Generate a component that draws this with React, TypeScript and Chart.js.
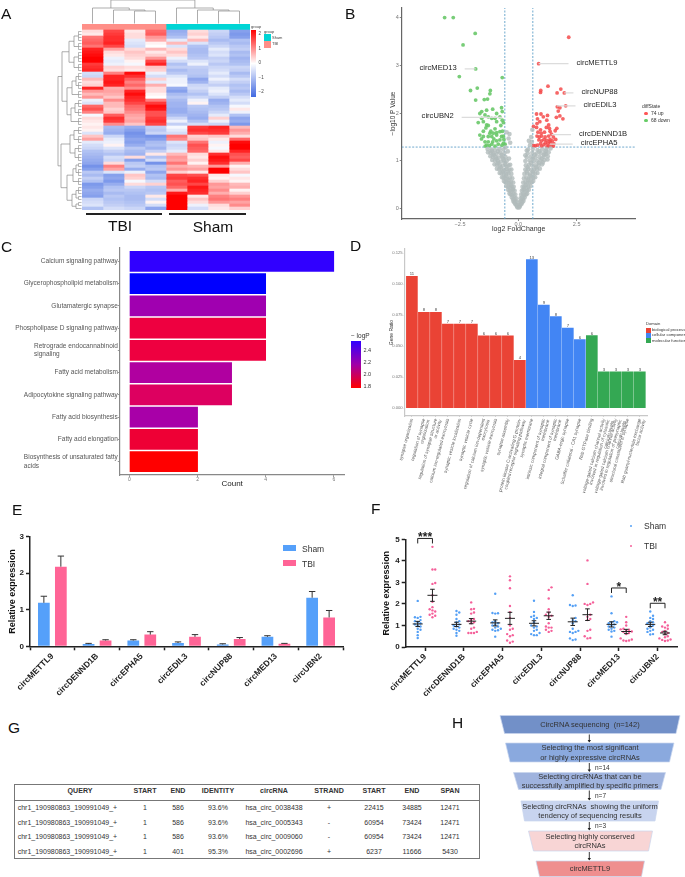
import React, { useEffect, useRef } from "react";
import { Chart, registerables } from "chart.js";
Chart.register(...registerables);
const FONT = "'Liberation Sans', Arial, sans-serif";
Chart.defaults.font.family = FONT;

// ---------- A: heatmap ----------
const sampleGroups = ["TBI", "TBI", "TBI", "TBI", "Sham", "Sham", "Sham", "Sham"];
const heatRows = [
  [.3,1.6,.2,1.3,-1.2,.3,-.6,-1.4],[.2,1.7,.3,1.4,-1.1,.4,-.7,-1.5],[1.2,1.8,.3,.9,-.9,.2,-.8,-1.4],
  [1.3,1.8,-.3,.7,-.3,.6,-1,-.9],[1.4,1.9,-.4,.1,.6,-.4,-.8,-1],[1.2,1.6,-.5,0,-.4,-.9,-.6,-.8],
  [1.9,.8,.3,.6,.3,-1,-.3,-.7],[2,.3,.5,.2,.5,-1,-.5,-1],[2.1,.2,.4,.4,.3,-.9,-.4,-.9],
  [2.2,-.2,.3,.9,-.2,-.8,-.7,-1.1],[2.2,-.3,.1,1.6,-.5,-.4,-.6,-1],[1.7,-.2,-.1,1.9,-.9,-.2,-.8,-.9],
  [1.8,.4,.3,.5,-.7,-.7,-.6,-.6],[1.9,.3,.2,.4,-1,-.8,-.5,-.7],[-.5,1.1,2.1,-.2,-.8,-.8,-.3,-1],
  [-.6,1.9,1.8,-.5,-.4,-.9,-.5,-.8],[.6,1.9,1.4,.4,-.2,-1.3,-.2,-.5],[.3,2,1.1,-.3,-.2,-1.1,-.5,-.7],
  [.4,1.9,1.3,.7,-.1,-.6,-.7,-.9],[1.9,.7,1,.3,-1.2,-.5,-.3,-.8],[.9,.8,1.9,.3,-1.4,-.7,-.2,-1],
  [.6,.7,2.1,.1,-1,-.9,-.4,-.8],[.9,.5,1.9,0,-.8,-.6,-.7,-.5],[-.2,1,1.8,1.1,-1,-.2,-1.2,-.3],
  [-.4,.6,1.6,1.7,-1.1,.1,-1.1,-.5],[1.3,.6,1.3,2.1,-1.1,-.8,-.9,-.1],[1.5,.4,1.2,2,-1.2,-.9,-.8,.2],
  [1.1,.5,1,1.5,-1.2,-1,-.6,-.2],[-.1,1.4,.8,1.5,-1,-1.1,-.3,-.9],[.3,1.8,.7,1.7,-.6,-1.2,.4,-1.3],
  [.2,1.7,.8,1.8,-.2,-.9,-.2,-1.2],[.1,1,.5,1.6,-.7,-.5,-.6,-1.5],[.2,-1,-1.2,-.7,-.1,1.7,1.9,.6],
  [.1,-1.1,-1.4,-.8,-.3,1.8,1.8,.9],[-.4,-1.2,-1.6,-.6,-.5,1.6,1.7,.7],[.5,-.6,-1.5,-1.6,1.2,.4,.5,.3],
  [.8,-.3,-1.3,-1.4,1,.5,.2,1.3],[-.3,-.2,-1.4,-1,-.4,1.2,-.2,2.1],[-.5,.1,-1.2,-.9,-.6,1.5,.1,2.2],
  [-.6,-.4,-.8,-1.1,-.5,1.4,-.1,2.2],[-.9,-.7,-1,-.7,-.3,1.3,.2,1.9],[-1,-.9,-1.1,.2,.6,.3,1.8,1.5],
  [-1.1,-.5,.3,-.9,.9,.2,2.1,1.4],[-1.2,-.6,-1.4,-.5,.8,.4,2,1.6],[-1.3,.3,-.8,-1.6,1.2,.1,1.8,.7],
  [-1.6,1.1,-.7,-.9,.7,.6,.9,.1],[-1.4,.8,-1.2,-.8,.9,.8,2.2,.3],[-.8,-.4,-.2,-1.3,.4,.2,2.3,.5],
  [-1,-1.4,.5,-.9,1.6,1.5,.2,-.1],[-.7,-1.3,.4,-1,1.7,1.8,.1,.2],[-.9,-1.5,-.1,-.5,1.4,1.9,.4,.1],
  [-1.5,-1.2,.3,.4,1.5,1.6,.9,.6],[-1.4,-.9,-.6,-.8,1.3,2,.8,.7],[-1.2,-.8,-.8,-.9,.7,1.9,1,.1],
  [-1.3,-1,-.9,-.8,2,1.8,.7,.4],[-1.4,-.8,-1,.2,2.2,.2,1.1,.9],[-.6,-.9,-1,-.5,2.2,.5,1.2,1.1],
  [-.5,-.8,-.9,.1,2.2,.3,.9,.8],[-.4,-.7,-.8,-.5,2.2,-.2,.3,1],[-.9,-.5,-.6,-1.3,2.2,-.5,.2,.4],
];
// dendrogram trees: [height, left, right]; a number is a run of leaves
const rowTree: any = [24,
  [20,
    [13,[8,4,3],[8,4,3]],
    [15,[10,[6,3,3],3],[11,[7,3,3],3]]],
  [21,
    [12,[8,3,3],[7,3,3]],
    [15,[9,[6,2,3],3],[10,[6,3,2],[6,2,1]]]],
];
const colTree: any = [24,[16,0,[14,1,[13,2,3]]],[16,4,[14,5,[13,6,7]]]];
const heatTicks = [2, 1, 0, -1, -2];

// ---------- B: volcano ----------
const upPoints = [[2.16,3.58],[.87,3.03],[1.27,2.56],[1.82,2.5],[.96,2.47],[.95,2.43],[1.66,2.42],[1.97,2.42],[2.03,2.15],[1.67,2.13],[1.78,2.11],[1.71,2.04],[1.63,1.91],[1.78,1.94],[1.91,1.88],[.78,1.98],[.97,1.98],[1.25,1.95],[1.07,1.92],[.82,1.88],[.92,1.82],[1.22,1.85],[.8,1.78],[1.3,1.75],[1.2,1.7],[.65,1.72],[.78,1.7],[1.33,1.68],[1.36,1.62],[1.65,1.68],[1.58,1.63],[.95,1.65],[.84,1.6],[.98,1.58],[1.12,1.6],[1.42,1.56],[.8,1.52],[.9,1.5],[1,1.52],[1.15,1.5],[1.3,1.52],[1.5,1.5],[.88,1.44],[1,1.42],[1.1,1.45],[1.22,1.43],[1.36,1.45],[1.46,1.42],[1.6,1.45],[.95,1.36],[1.16,1.38],[1.26,1.36],[1.38,1.38],[1.52,1.36],[.72,1.32],[.82,1.33],[.65,1.32],[1.1,1.34],[1.3,1.31],[1.42,1.32],[1.5,1.31],[1.24,1.3],[1,1.31],[1.34,1.41]];
const downPoints = [[-3.16,3.99],[-2.79,3.99],[-1.85,3.66],[-2.37,3.42],[-1.83,2.92],[-2.53,2.76],[-.69,2.74],[-1.76,2.52],[-2.05,2.47],[-1.2,2.47],[-1.22,2.4],[-1.83,2.27],[-1.46,2.28],[-1.32,2.29],[-1.57,2.03],[-1.36,2.06],[-1.1,2.08],[-.72,2.11],[-1.43,1.96],[-1.65,1.99],[-1.57,1.89],[-1.29,1.92],[-.93,1.99],[-.69,2.03],[-1.72,1.8],[-1.5,1.82],[-1.14,1.89],[-1,1.89],[-.79,1.92],[-.69,1.85],[-.64,1.8],[-.93,1.82],[-1.36,1.75],[-1.29,1.74],[-1,1.67],[-1.39,1.69],[-1.65,1.54],[-1.5,1.51],[-1.22,1.58],[-1.07,1.58],[-.93,1.59],[-.79,1.61],[-.64,1.52],[-1.29,1.51],[-1.14,1.51],[-.93,1.54],[-.72,1.51],[-1.43,1.4],[-1.29,1.4],[-1.1,1.4],[-.93,1.42],[-.79,1.44],[-.64,1.37],[-.57,1.35],[-1.36,1.33],[-1.14,1.35],[-.86,1.35],[-1.18,1.62],[-1.05,1.46],[-.75,1.74],[-.68,1.62],[-1.5,1.62],[-1.24,1.32],[-1,1.31],[-.7,1.33],[-.62,1.45],[-1.42,1.31],[-1.58,1.46]];
const nsPoints = [
  [-.03,.03],[-.06,.05],[-.05,.08],[-.1,.09],[-.14,.11],[-.08,.15],[-.13,.16],[-.18,.14],[-.22,.17],[-.1,.22],[-.16,.23],[-.22,.21],[-.28,.24],[-.13,.3],[-.2,.31],[-.27,.29],[-.33,.3],[-.38,.32],[-.16,.38],[-.24,.39],[-.31,.37],[-.38,.38],[-.44,.4],
  [-.2,.46],[-.28,.47],[-.36,.45],[-.44,.46],[-.52,.48],[-.22,.55],[-.31,.56],[-.4,.54],[-.48,.55],[-.56,.56],[-.62,.58],[-.26,.64],[-.36,.65],[-.46,.63],[-.55,.64],[-.64,.65],[-.7,.66],[-.3,.73],[-.42,.74],[-.52,.72],[-.62,.73],[-.72,.74],[-.8,.75],
  [-.38,.82],[-.5,.83],[-.6,.81],[-.72,.82],[-.82,.83],[-.92,.84],[-.42,.91],[-.55,.92],[-.68,.9],[-.8,.91],[-.92,.92],[-1.02,.93],[-.5,1],[-.62,1.01],[-.75,.99],[-.88,1],[-1,1.01],[-1.12,1.02],[-.55,1.08],[-.7,1.09],[-.85,1.07],[-.98,1.08],[-1.1,1.09],[-1.2,1.1],
  [-.6,1.16],[-.78,1.17],[-.94,1.15],[-1.08,1.16],[-1.2,1.17],[-1.3,1.18],[-.65,1.24],[-.82,1.25],[-1,1.23],[-1.15,1.24],[-1.32,1.25],[-.42,1.47],[-.38,1.56],[-.5,1.6],[-.55,1.28],[-.35,1.38],[-.45,1.2],[-.4,1.05],[-.35,.92],[-.3,.82],
  [.03,.03],[.06,.05],[.05,.08],[.1,.09],[.14,.11],[.07,.15],[.12,.16],[.17,.14],[.22,.17],[.09,.22],[.15,.23],[.21,.21],[.27,.24],[.12,.3],[.19,.31],[.26,.29],[.33,.3],[.38,.32],[.15,.38],[.22,.39],[.3,.37],[.38,.38],[.45,.4],
  [.18,.46],[.26,.47],[.34,.45],[.43,.46],[.52,.48],[.21,.55],[.3,.56],[.39,.54],[.48,.55],[.57,.56],[.64,.58],[.24,.64],[.34,.65],[.44,.63],[.54,.64],[.64,.65],[.72,.66],[.26,.73],[.38,.74],[.5,.72],[.62,.73],[.72,.74],[.82,.75],
  [.3,.82],[.42,.83],[.55,.81],[.68,.82],[.8,.83],[.92,.84],[.32,.91],[.46,.92],[.6,.9],[.74,.91],[.88,.92],[1.02,.93],[.3,1],[.48,1.01],[.64,.99],[.8,1],[.96,1.01],[1.12,1.02],[1.25,1.03],[.36,1.08],[.54,1.09],[.72,1.07],[.9,1.08],[1.08,1.09],[1.26,1.1],
  [.4,1.16],[.6,1.17],[.78,1.15],[.96,1.16],[1.14,1.17],[1.3,1.18],[.42,1.24],[.62,1.25],[.82,1.23],[1.02,1.24],[1.2,1.25],[1.38,1.26],[.55,1.5],[.6,1.65],[.58,1.4],[.5,1.33],[.45,1.42],
  [-.24,.42],[-.33,.5],[-.42,.6],[-.52,.69],[-.66,.78],[-.76,.87],[-.86,.96],[-.94,1.05],[-1.05,1.13],[-1.14,1.21],[-.45,.78],[-.5,.88],[-.58,.96],[-.66,1.05],[-.72,1.13],[-.88,1.2],[.24,.42],[.32,.5],[.42,.6],[.5,.69],[.62,.78],[.76,.87],[.88,.96],[1,1.05],[1.1,1.13],[1.18,1.21],[.36,.78],[.4,.87],[.54,.96],[.62,1.05],[.7,1.13],[.9,1.2],[1.05,.97],[1.18,1.14],[.3,1.12],[.36,1.22],
];
const xCut = [-0.58, 0.62];
const yCut = 1.29;
const geneLeaders = [
  { name: "circMETTL9", from: [.87, 3.03], to: [2.15, 3.03], side: 1 },
  { name: "circMED13", from: [-1.83, 2.92], to: [-2.3, 2.92], side: -1 },
  { name: "circNUP88", from: [1.97, 2.42], to: [2.36, 2.42], side: 1 },
  { name: "circEDIL3", from: [1.65, 2.15], to: [2.45, 2.15], side: 1 },
  { name: "circUBN2", from: [-.69, 1.91], to: [-2.43, 1.91], side: -1 },
  { name: "circDENND1B", from: [1.43, 1.55], to: [2.26, 1.55], side: 1 },
  { name: "circEPHA5", from: [1.36, 1.35], to: [2.33, 1.35], side: 1 },
];

// ---------- C: KEGG bars ----------
const pathways = [
  ["Calcium signaling pathway"], ["Glycerophospholipid metabolism"], ["Glutamatergic synapse"],
  ["Phospholipase D signaling pathway"], ["Retrograde endocannabinoid", "signaling"], ["Fatty acid metabolism"],
  ["Adipocytokine signaling pathway"], ["Fatty acid biosynthesis"], ["Fatty acid elongation"],
  ["Biosynthesis of unsaturated fatty", "acids"],
];
const pathwayCounts = [6, 4, 4, 4, 4, 3, 3, 2, 2, 2];
const pathwayColors = ["#3000ff", "#0000ff", "#a000b0", "#ee0040", "#ee0040", "#b000a0", "#dd0060", "#a800a8", "#ee0035", "#ff0000"];
const logPTicks = [2.4, 2.2, 2.0, 1.8];

// ---------- D: GO bars ----------
const goTerms = [
  ["synapse organization"], ["regulation of synapse", "organization"], ["regulation of synapse structure", "or activity"],
  ["calcium ion-regulated exocytosis"], ["synaptic vesicle localization"], ["synaptic vesicle cycle"],
  ["regulation of calcium ion-dependent", "exocytosis"], ["synaptic vesicle exocytosis"], ["synapse assembly"],
  ["protein kinase C-activating G protein-", "coupled receptor signaling pathway"], ["synaptic membrane"],
  ["intrinsic component of synaptic", "membrane"], ["integral component of synaptic", "membrane"], ["GABA-ergic synapse"],
  ["Schaffer collateral - CA1 synapse"], ["Rab GTPase binding"],
  ["voltage-gated calcium channel activity", "involved in regulation of cytosolic", "calcium levels"],
  ["voltage-gated calcium channel activity", "involved in regulation of presynaptic", "calcium levels"],
  ["structural constituent of synapse"], ["Rab guanyl-nucleotide exchange", "factor activity"],
];
const goRatios = [.1065,.0773,.0773,.0678,.0678,.0678,.0583,.0583,.0583,.0385,.12,.0832,.074,.0647,.0554,.0585,.0292,.0292,.0292,.0292];
const goCounts = [11,8,8,7,7,7,6,6,6,4,13,9,8,7,6,6,3,3,3,3];
const goDomains = [0,0,0,0,0,0,0,0,0,0,1,1,1,1,1,2,2,2,2,2];
const domainNames = ["biological process", "cellular component", "molecular function"];
const domainColors = ["#ea4335", "#4285f4", "#34a853"];

// ---------- E / F ----------
const genes = ["circMETTL9", "circDENND1B", "circEPHA5", "circEDIL3", "circNUP88", "circMED13", "circUBN2"];
const seqSham = [1.19, .06, .16, .09, .05, .26, 1.33];
const seqTBI = [2.18, .16, .32, .26, .2, .07, .79];
const seqShamErr = [.18, .02, .02, .03, .02, .03, .17];
const seqTBIErr = [.29, .02, .08, .06, .04, .01, .19];

const qShamValues = [
  [2.14,1.4,1.38,1.35,1.25,1.2,1.15,1.1,1.05,1,.95,.85,.8,.7,.55,.42],
  [1.67,1.6,1.5,1.3,1.2,1.15,1.05,1,.95,.9,.85,.8,.75,.65,.52],
  [2.47,1.58,1.57,1.55,1.2,1.15,1.1,1.05,1,.95,.9,.85,.8,.78,.75,.48],
  [2.15,1.63,1.45,1.4,1.35,1.3,1.15,1,.95,.9,.8,.75,.65,.6,.55,.55],
  [2.4,1.95,1.93,1.9,1.35,1.25,1.2,1.1,.85,.75,.7,.7,.65,.4,.35,.32],
  [2.35,1.57,1.2,1.15,1.15,1.1,1.05,1,.95,.9,.85,.8,.75,.72,.48],
  [1.65,1.45,1.35,1.3,1.2,1.15,1.1,1.05,1,.9,.85,.8,.75,.7,.6,.58],
];
const qTBIValues = [
  [4.65,3.6,3.6,2.97,2.93,2.4,2.1,1.85,1.75,1.7,1.65,1.55,1.5,1.45,1.38],
  [2.07,1.77,1.75,1.6,1.55,1.3,1.25,1.2,1.15,1.1,.9,.85,.7,.65,.65,.65],
  [3.28,3.1,2.73,1.9,1.62,1.35,1,.85,.8,.6,.55,.5,.3,.25,.2],
  [2.77,2.65,2.25,1.75,1.6,1.5,1.45,1.4,1.1,.95,.9,.9,.8,.75,.7],
  [4.02,2.93,2.07,2,2,1.95,1.5,1.4,1.3,1.25,.8,.75,.5,.42,.4],
  [1.4,1.15,1,.85,.82,.8,.75,.72,.7,.65,.6,.4,.35,.3,.3,.28],
  [1.15,1,.95,.9,.85,.75,.7,.65,.6,.5,.45,.4,.35,.33,.3,.28],
];
const qShamMean = [1.07, 1.05, 1.12, 1.1, 1.17, 1.05, 1.05];
const qTBIMean = [2.4, 1.2, 1.33, 1.45, 1.5, .72, .65];
const qShamSem = [.12, .1, .14, .12, .17, .12, .1];
const qTBISem = [.28, .12, .28, .17, .27, .1, .08];
const sigMarks = [
  { gene: 0, level: 5.04, stars: "***" },
  { gene: 5, level: 2.74, stars: "*" },
  { gene: 6, level: 2.03, stars: "**" },
];

// ---------- G ----------
const tableHead = ["QUERY", "START", "END", "IDENTITY", "circRNA", "STRAND", "START", "END", "SPAN"];
const tableRows = [
  ["chr1_190980863_190991049_+", "1", "586", "93.6%", "hsa_circ_0038438", "+", "22415", "34885", "12471"],
  ["chr1_190980863_190991049_+", "1", "586", "93.6%", "hsa_circ_0005343", "-", "60954", "73424", "12471"],
  ["chr1_190980863_190991049_+", "1", "586", "93.6%", "hsa_circ_0009060", "-", "60954", "73424", "12471"],
  ["chr1_190980863_190991049_+", "1", "401", "95.3%", "hsa_circ_0002696", "+", "6237", "11666", "5430"],
];

// ---------- H ----------
const funnelSteps = [
  { lines: ["CircRNA sequencing\u00a0\u00a0(n=142)"], fill: "#7290c8", top: 715.5, bot: 733.5, tl: 500, tr: 680, bl: 504.5, br: 676 },
  { lines: ["Selecting the most significant", "or highly expressive circRNAs"], fill: "#8aa9de", top: 743, bot: 762, tl: 505.5, tr: 674, bl: 510, br: 669.5 },
  { lines: ["Selecting circRNAs that can be", "successfully amplified by specific primers"], fill: "#9fb3de", top: 772.5, bot: 789.5, tl: 513.5, tr: 665.5, bl: 518.5, br: 661 },
  { lines: ["Selecting circRNAs  showing the uniform", "tendency of sequencing results"], fill: "#c8d4ef", top: 801, bot: 821, tl: 521, tr: 658.5, bl: 524.5, br: 655 },
  { lines: ["Selecting highly conserved", "circRNAs"], fill: "#f8d5d5", top: 831, bot: 851, tl: 528.5, tr: 652.5, bl: 533.5, br: 648.5 },
  { lines: ["circMETTL9"], fill: "#ef8f8f", top: 861, bot: 876.5, tl: 536, tr: 644.5, bl: 539.5, br: 641.5 },
];
const funnelCounts = ["", "n=14", "n=7", "n=3", ""];

// ---------- helpers ----------
const heatColor = (v: number) => {
  const t = Math.min(1, Math.abs(v) / 2.2);
  const mix = (b: number) => Math.round(255 + (b - 255) * t);
  return v >= 0 ? `rgb(255,${mix(0)},${mix(0)})` : `rgb(${mix(65)},${mix(105)},${mix(225)})`;
};
const fixedLayout = (W: number, t: number, r: number) => ({ autoPadding: false, padding: { left: 0, top: t, right: W - r, bottom: 0 } });
const base = { responsive: false, animation: false, devicePixelRatio: 1, plugins: { legend: { display: false }, tooltip: { enabled: false } } };
const withPlugins = (o: any) => ({ ...base, ...o });

function swarm(values: number[], center: number, step: number, gap: number) {
  const placed: { x: number; y: number }[] = [];
  [...values].sort((a, b) => a - b).forEach((y) => {
    const near = placed.filter((p) => Math.abs(p.y - y) < gap).map((p) => p.x);
    for (let k = 0; k < 20; k++) {
      const off = ((k + 1) >> 1) * step * (k % 2 ? 1 : -1);
      if (!near.some((x) => Math.abs(x - (center + off)) < step * 0.9)) { placed.push({ x: center + off, y }); break; }
    }
  });
  return placed;
}

function colorbarConfig(W: number, H: number, t: number, l: number, r: number, b: number, min: number, max: number, ticks: number[], stops: string[], size: number, fmt: (v: number) => string, color: string) {
  return {
    type: "bar",
    data: {
      labels: ["c"],
      datasets: [{
        data: [[min, max]], barPercentage: 1, categoryPercentage: 1,
        backgroundColor: (c: any) => {
          const a = c.chart.chartArea;
          if (!a) return stops[0];
          const g = c.chart.ctx.createLinearGradient(0, a.top, 0, a.bottom);
          stops.forEach((s, i) => g.addColorStop(i / (stops.length - 1), s));
          return g;
        },
      }],
    },
    options: withPlugins({
      layout: { autoPadding: false, padding: { left: l, top: t, right: 0, bottom: H - b } },
      scales: {
        x: { display: false },
        y: {
          position: "right", min, max, border: { display: false }, grid: { drawOnChartArea: false, tickLength: 1.5, tickColor: "#fff" },
          afterBuildTicks: (s: any) => { s.ticks = ticks.map((value) => ({ value })); },
          afterFit: (s: any) => { s.width = W - r; },
          ticks: { padding: 1, font: { size }, color, callback: (v: number) => fmt(v) },
        },
      },
    }),
  };
}

const heatmapPlugin = {
  id: "dendro",
  afterDraw(chart: any) {
    const { ctx, scales } = chart;
    const left = scales.x.left, top = chart.chartArea.top;
    const colPx = (c: number) => scales.x.getPixelForValue(c + 0.5);
    const rowPx = (r: number) => scales.y.getPixelForValue(r + 2);
    ctx.save();
    ctx.strokeStyle = "#8a8a8a";
    ctx.lineWidth = 0.7;
    const seg = (a: number, b: number, c: number, d: number) => { ctx.beginPath(); ctx.moveTo(a, b); ctx.lineTo(c, d); ctx.stroke(); };
    let cursor = 0;
    const rowNode = (n: any): { y: number; h: number } => {
      if (typeof n === "number") {
        const s = cursor;
        ctx.strokeStyle = "#9a9a9a";
        for (let i = 0; i < n; i++) seg(left - 3.5, rowPx(cursor + i), left - 0.5, rowPx(cursor + i));
        seg(left - 3.5, rowPx(s), left - 3.5, rowPx(s + n - 1));
        ctx.strokeStyle = "#8a8a8a";
        cursor += n;
        return { y: (rowPx(s) + rowPx(s + n - 1)) / 2, h: 3.5 };
      }
      const [h, a, b] = n;
      const A = rowNode(a), B = rowNode(b);
      seg(left - h, A.y, left - h, B.y);
      seg(left - h, A.y, left - A.h, A.y);
      seg(left - h, B.y, left - B.h, B.y);
      return { y: (A.y + B.y) / 2, h };
    };
    rowNode(rowTree);
    const colNode = (n: any): { x: number; h: number } => {
      if (typeof n === "number") return { x: colPx(n), h: 0.5 };
      const [h, a, b] = n;
      const A = colNode(a), B = colNode(b);
      seg(A.x, top - h, B.x, top - h);
      seg(A.x, top - h, A.x, top - A.h);
      seg(B.x, top - h, B.x, top - B.h);
      return { x: (A.x + B.x) / 2, h };
    };
    colNode(colTree);
    ctx.restore();
  },
};

const volcanoLabels = {
  id: "volcanoLabels",
  afterDatasetsDraw(chart: any) {
    const { ctx, scales } = chart;
    ctx.save();
    ctx.font = `7.6px ${FONT}`;
    ctx.fillStyle = "#222";
    ctx.textBaseline = "middle";
    geneLeaders.forEach((g) => {
      const px = scales.x.getPixelForValue(g.to[0]), py = scales.y.getPixelForValue(g.to[1]);
      ctx.textAlign = g.side > 0 ? "left" : "right";
      ctx.fillText(g.name, px + g.side * 8, py - 1);
    });
    ctx.restore();
  },
};

const pathwayLabels = {
  id: "pathwayLabels",
  afterDraw(chart: any) {
    const { ctx, scales } = chart;
    ctx.save();
    ctx.font = `6.5px ${FONT}`;
    ctx.fillStyle = "#555";
    ctx.textBaseline = "middle";
    pathways.forEach((lines, i) => {
      const y = scales.y.getPixelForValue(i);
      const w = Math.max(...lines.map((s) => ctx.measureText(s).width));
      const right = scales.y.right - 1.5;
      lines.forEach((s, k) => {
        ctx.textAlign = "left";
        ctx.fillText(s, right - w, y + (k - (lines.length - 1) / 2) * 8.4);
      });
    });
    ctx.restore();
  },
};

const goCountLabels = {
  id: "goCountLabels",
  afterDatasetsDraw(chart: any) {
    const { ctx, scales } = chart;
    ctx.save();
    ctx.font = `4.2px ${FONT}`;
    ctx.fillStyle = "#444";
    ctx.textAlign = "center";
    ctx.textBaseline = "bottom";
    goCounts.forEach((c, i) => ctx.fillText(String(c), scales.x.getPixelForValue(i), scales.y.getPixelForValue(goRatios[i])));
    ctx.restore();
  },
};

const seqErrors = {
  id: "seqErrors",
  afterDatasetsDraw(chart: any) {
    const { ctx, scales } = chart;
    ctx.save();
    ctx.strokeStyle = "#333";
    ctx.lineWidth = 1;
    [seqShamErr, seqTBIErr].forEach((errs, d) => {
      const meta = chart.getDatasetMeta(d);
      const vals = d ? seqTBI : seqSham;
      errs.forEach((e, i) => {
        const x = meta.data[i].x, y0 = scales.y.getPixelForValue(vals[i]), y1 = scales.y.getPixelForValue(vals[i] + e);
        ctx.beginPath();
        ctx.moveTo(x, y0); ctx.lineTo(x, y1);
        ctx.moveTo(x - 3.2, y1); ctx.lineTo(x + 3.2, y1);
        ctx.stroke();
      });
    });
    ctx.restore();
  },
};

const SHIFT = 0.19;
const qpcrMarks = {
  id: "qpcrMarks",
  afterDatasetsDraw(chart: any) {
    const { ctx, scales } = chart;
    ctx.save();
    ctx.strokeStyle = "#222";
    ctx.lineWidth = 1;
    const group = (means: number[], sems: number[], off: number) => means.forEach((m, i) => {
      const x = scales.x.getPixelForValue(i + 0.5 + off);
      const y = scales.y.getPixelForValue(m), hi = scales.y.getPixelForValue(m + sems[i]), lo = scales.y.getPixelForValue(m - sems[i]);
      ctx.beginPath();
      ctx.moveTo(x - 5, y); ctx.lineTo(x + 5, y);
      ctx.moveTo(x, hi); ctx.lineTo(x, lo);
      ctx.moveTo(x - 2.3, hi); ctx.lineTo(x + 2.3, hi);
      ctx.moveTo(x - 2.3, lo); ctx.lineTo(x + 2.3, lo);
      ctx.stroke();
    });
    group(qShamMean, qShamSem, -SHIFT);
    group(qTBIMean, qTBISem, SHIFT);
    ctx.textAlign = "center";
    ctx.font = `bold 12px ${FONT}`;
    ctx.fillStyle = "#222";
    sigMarks.forEach((s) => {
      const a = scales.x.getPixelForValue(s.gene + 0.5 - SHIFT), b = scales.x.getPixelForValue(s.gene + 0.5 + SHIFT), y = scales.y.getPixelForValue(s.level);
      ctx.beginPath();
      ctx.moveTo(a, y + 5); ctx.lineTo(a, y); ctx.lineTo(b, y); ctx.lineTo(b, y + 5);
      ctx.stroke();
      ctx.fillText(s.stars, (a + b) / 2, y + 3);
    });
    ctx.restore();
  },
};

const DARK = "#222";
const darkAxis = { border: { color: DARK, width: 1.5 }, grid: { drawOnChartArea: false, tickLength: 4, tickColor: DARK, tickWidth: 1.5 } };
const exprTitle = (padTop: number) => ({ display: true, text: "Relative expression", color: "#111", font: { size: 9, weight: "bold" }, padding: { top: padTop, bottom: 0 } });

const configs: { rect: number[]; config: any }[] = [
  // A heatmap
  {
    rect: [0, 0, 340, 235],
    config: {
      type: "bar",
      plugins: [heatmapPlugin],
      data: {
        labels: ["group", "group2", ...heatRows.map((_, i) => `r${i}`)],
        datasets: sampleGroups.map((g, c) => ({
          label: g + c,
          data: [1, 1, ...heatRows.map(() => 1)],
          backgroundColor: [
            g === "TBI" ? "#ff8f88" : "#00d5d5", g === "TBI" ? "#ff8f88" : "#00d5d5",
            ...heatRows.map((r) => heatColor(r[c])),
          ],
          borderWidth: 0, barPercentage: 1, categoryPercentage: 1, stack: "s",
        })),
      },
      options: withPlugins({
        indexAxis: "y",
        layout: { autoPadding: false, padding: { left: 82, top: 24, right: 340 - 250, bottom: 235 - 210 } },
        scales: {
          x: { display: false, stacked: true, min: 0, max: 8 },
          y: { display: false, stacked: true },
        },
      }),
    },
  },
  // A colourbar
  {
    rect: [245, 25, 30, 78],
    config: colorbarConfig(30, 78, 5, 6, 11, 72, -2.34, 2.28, heatTicks, ["#ff0000", "#ffffff", "#4169e1"], 4.5, (v) => (v < 0 ? "\u2212" + Math.abs(v) : String(v)), "#444"),
  },
  // B volcano
  {
    rect: [340, 0, 345, 235],
    config: {
      type: "scatter",
      plugins: [volcanoLabels],
      data: {
        datasets: [
          { data: nsPoints.map(([x, y]) => ({ x, y })), pointRadius: 2.3, pointBorderWidth: 0, backgroundColor: "rgba(178,188,188,0.8)" },
          ...geneLeaders.map((g) => ({ data: [{ x: g.from[0], y: g.from[1] }, { x: g.to[0], y: g.to[1] }], showLine: true, borderColor: "#dcdcdc", borderWidth: 1.2, pointRadius: 0 })),
          { data: downPoints.map(([x, y]) => ({ x, y })), pointRadius: 1.9, pointBorderWidth: 0, backgroundColor: "rgba(105,200,105,0.9)" },
          { data: upPoints.map(([x, y]) => ({ x, y })), pointRadius: 1.9, pointBorderWidth: 0, backgroundColor: "rgba(245,75,75,0.85)" },
          ...xCut.map((x) => ({ data: [{ x, y: -0.21 }, { x, y: 4.19 }], showLine: true, borderColor: "#5f9fc8", borderWidth: 0.9, borderDash: [2, 1.5], pointRadius: 0 })),
          { data: [{ x: -5, y: yCut }, { x: 5.03, y: yCut }], showLine: true, borderColor: "#5f9fc8", borderWidth: 0.9, borderDash: [2, 1.5], pointRadius: 0 },
        ],
      },
      options: withPlugins({
        layout: fixedLayout(345, 8, 295.7),
        scales: {
          x: {
            min: -5, max: 5.03, border: { color: "#666", width: 1.2 }, grid: { drawOnChartArea: false, tickLength: 2, tickColor: "#888" },
            afterBuildTicks: (s: any) => { s.ticks = [-2.5, 0, 2.5].map((value) => ({ value })); },
            afterFit: (s: any) => { s.height = 16; },
            ticks: { padding: 0, font: { size: 5.5 }, color: "#777", callback: (v: number) => (v < 0 ? "\u2212" + Math.abs(v).toFixed(1) : v.toFixed(1)), maxRotation: 0 },
            title: { display: true, text: "log2 FoldChange", color: "#333", font: { size: 7 }, padding: { top: 0, bottom: 2 } },
          },
          y: {
            min: -0.21, max: 4.19, border: { color: "#666", width: 1.2 }, grid: { drawOnChartArea: false, tickLength: 2, tickColor: "#888" },
            afterBuildTicks: (s: any) => { s.ticks = [0, 1, 2, 3, 4].map((value) => ({ value })); },
            afterFit: (s: any) => { s.width = 61.7; },
            ticks: { padding: 1, font: { size: 5.5 }, color: "#777" },
            title: { display: true, text: "\u2212log10 P Value", color: "#333", font: { size: 6.5 }, padding: { top: 49, bottom: 0 } },
          },
        },
      }),
    },
  },
  // C pathways
  {
    rect: [0, 235, 345, 260],
    config: {
      type: "bar",
      plugins: [pathwayLabels],
      data: {
        datasets: [{
          data: pathwayCounts.map((x, i) => ({ x, y: i })),
          backgroundColor: pathwayColors, barThickness: 20, borderWidth: 0,
        }],
      },
      options: withPlugins({
        indexAxis: "y",
        layout: fixedLayout(345, 13, 345),
        scales: {
          x: {
            type: "linear", min: -0.3, max: 6.33, border: { color: "#888", width: 1.2 }, grid: { drawOnChartArea: false, tickLength: 2, tickColor: "#999" },
            afterBuildTicks: (s: any) => { s.ticks = [0, 2, 4, 6].map((value) => ({ value })); },
            afterFit: (s: any) => { s.height = 20; },
            ticks: { padding: 0, font: { size: 5 }, color: "#777", maxRotation: 0 },
            title: { display: true, text: "Count", color: "#222", font: { size: 8 }, padding: { top: 0, bottom: 6.2 } },
          },
          y: {
            type: "linear", offset: false, reverse: true, min: -0.6, max: 9.6, border: { color: "#888", width: 1.2 }, grid: { offset: false, drawOnChartArea: false, tickLength: 1.5, tickColor: "#999" },
            afterBuildTicks: (s: any) => { s.ticks = pathways.map((_, value) => ({ value })); },
            afterFit: (s: any) => { s.width = 119.3; },
            ticks: { display: false },
          },
        },
      }),
    },
  },
  // C colourbar
  {
    rect: [345, 335, 40, 58],
    config: colorbarConfig(40, 58, 6, 6, 16, 53, 1.77, 2.565, logPTicks, ["#3000ff", "#a000a8", "#ff0000"], 5.5, (v) => v.toFixed(1), "#333"),
  },
  // D GO
  {
    rect: [345, 235, 340, 260],
    config: {
      type: "bar",
      plugins: [goCountLabels],
      data: {
        datasets: [{
          data: goRatios.map((y, x) => ({ x, y })),
          backgroundColor: goDomains.map((d) => domainColors[d]), barThickness: 11, borderWidth: 0,
        }],
      },
      options: withPlugins({
        layout: fixedLayout(340, 14, 302),
        scales: {
          x: {
            type: "linear", offset: false, min: -0.6, max: 19.6, border: { color: "#c8c8c8", width: 1.2 }, grid: { offset: false, drawOnChartArea: false, tickLength: 1, tickColor: "#ccc" },
            afterBuildTicks: (s: any) => { s.ticks = goTerms.map((_, value) => ({ value })); },
            afterFit: (s: any) => { s.height = 79; },
            ticks: { autoSkip: false, maxRotation: 75, minRotation: 75, padding: 1, font: { size: 4.6, lineHeight: 1 }, color: "#555", callback: (v: number) => goTerms[v] },
          },
          y: {
            min: -0.0064, max: 0.1285, border: { color: "#c8c8c8", width: 1.2 }, grid: { drawOnChartArea: false, tickLength: 1, tickColor: "#ccc" },
            afterBuildTicks: (s: any) => { s.ticks = [0, .025, .05, .075, .1, .125].map((value) => ({ value })); },
            afterFit: (s: any) => { s.width = 59.7; },
            ticks: { padding: 1, font: { size: 4.2 }, color: "#777", callback: (v: number) => v.toFixed(3) },
            title: { display: true, text: "Gene Ratio", color: "#333", font: { size: 5 }, padding: { top: 43.7, bottom: 0 } },
          },
        },
      }),
    },
  },
  // E
  {
    rect: [0, 495, 345, 215],
    config: {
      type: "bar",
      plugins: [seqErrors],
      data: {
        labels: genes,
        datasets: [
          { label: "Sham", data: seqSham, backgroundColor: "#55a0fa", barPercentage: 0.69, categoryPercentage: 0.76 },
          { label: "TBI", data: seqTBI, backgroundColor: "#ff6496", barPercentage: 0.69, categoryPercentage: 0.76 },
        ],
      },
      options: withPlugins({
        layout: fixedLayout(345, 41.7, 343),
        scales: {
          x: {
            ...darkAxis,
            afterFit: (s: any) => { s.height = 215 - 151.3; },
            ticks: { autoSkip: false, maxRotation: 45, minRotation: 45, padding: 1, font: { size: 8.5, weight: "bold" }, color: DARK },
          },
          y: {
            ...darkAxis, min: 0, max: 3,
            afterFit: (s: any) => { s.width = 30; },
            ticks: { stepSize: 1, padding: 2, font: { size: 8, weight: "bold" }, color: DARK },
            title: exprTitle(7),
          },
        },
      }),
    },
  },
  // F
  {
    rect: [345, 495, 340, 215],
    config: {
      type: "scatter",
      plugins: [qpcrMarks],
      data: {
        datasets: [
          { label: "Sham", data: qShamValues.flatMap((v, i) => swarm(v, i + 0.5 - SHIFT, 0.072, 0.13)), pointRadius: 1.2, pointBorderWidth: 0, backgroundColor: "#55a0f5" },
          { label: "TBI", data: qTBIValues.flatMap((v, i) => swarm(v, i + 0.5 + SHIFT, 0.072, 0.13)), pointRadius: 1.2, pointBorderWidth: 0, backgroundColor: "#f5609a" },
        ],
      },
      options: withPlugins({
        layout: fixedLayout(340, 44.3, 332),
        scales: {
          x: {
            ...darkAxis, min: 0, max: 7,
            afterBuildTicks: (s: any) => { s.ticks = genes.map((_, i) => ({ value: i + 0.5 })); },
            afterFit: (s: any) => { s.height = 215 - 152; },
            ticks: { autoSkip: false, maxRotation: 45, minRotation: 45, padding: 1, font: { size: 8.5, weight: "bold" }, color: DARK, callback: (v: number) => genes[Math.round(v - 0.5)] },
          },
          y: {
            ...darkAxis, min: 0, max: 5,
            afterFit: (s: any) => { s.width = 60.7; },
            ticks: { stepSize: 1, padding: 2, font: { size: 8, weight: "bold" }, color: DARK },
            title: exprTitle(36),
          },
        },
      }),
    },
  },
];

const T = ({ x, y, s, size, color = "#222", align = "left", weight = "normal", rotate = 0 }: any) => (
  <div style={{
    position: "absolute", left: x, top: y, fontSize: size, color, fontWeight: weight, whiteSpace: "pre", lineHeight: 1,
    fontFamily: FONT,
    transform: `translate(${align === "center" ? "-50%" : align === "right" ? "-100%" : "0"},-50%) rotate(${rotate}deg)`,
  }}>{s}</div>
);
const Box = ({ x, y, w, h, c }: any) => <div style={{ position: "absolute", left: x, top: y, width: w, height: h, background: c }} />;

const columnCenters = [80, 145, 178, 218, 274, 329, 374, 412, 450];
const rowCenters = [807, 821.7, 835.7, 851];

export default function App() {
  const refs = useRef<(HTMLCanvasElement | null)[]>([]);
  useEffect(() => {
    const charts = configs.map((c, i) => new Chart(refs.current[i] as HTMLCanvasElement, c.config));
    return () => charts.forEach((c) => c.destroy());
  }, []);
  return (
    <div style={{ position: "absolute", left: 0, top: 0, width: 685, height: 877, overflow: "hidden", background: "#fff", filter: "blur(0.35px)" }}>
      {configs.map((c, i) => (
        <canvas key={i} ref={(el) => { refs.current[i] = el; }} width={c.rect[2]} height={c.rect[3]}
          style={{ position: "absolute", left: c.rect[0], top: c.rect[1], width: c.rect[2], height: c.rect[3] }} />
      ))}
      {/* panel letters */}
      {[["A", 1, 14], ["B", 345, 14], ["C", 1, 247], ["D", 350, 246], ["E", 12, 510], ["F", 371, 509], ["G", 8, 728], ["H", 452, 723]].map(([s, x, y]: any) => (
        <T key={s} s={s} x={x} y={y} size={15.5} color="#111" />
      ))}
      {/* A annotations */}
      <Box x={86} y={213} w={76} h={2} c="#222" />
      <Box x={169} y={213} w={77} h={2} c="#222" />
      <T s="TBI" x={120} y={226} size={15.5} align="center" color="#111" />
      <T s="Sham" x={213} y={227} size={15.5} align="center" color="#111" />
      <T s="group" x={251} y={26.5} size={4} color="#444" />
      <T s="group" x={264} y={31.5} size={4} color="#444" />
      <Box x={264} y={34} w={7} h={7} c="#00d5d5" />
      <Box x={264} y={41} w={7} h={7} c="#ff8f88" />
      <T s="Sham" x={272} y={38} size={4} color="#444" />
      <T s="TBI" x={272} y={44} size={4} color="#444" />
      {/* B legend */}
      <T s="diffState" x={642} y={105.5} size={5} color="#333" />
      <div style={{ position: "absolute", left: 644, top: 111.5, width: 3.6, height: 3.6, borderRadius: 2, background: "#f55" }} />
      <div style={{ position: "absolute", left: 644, top: 118.5, width: 3.6, height: 3.6, borderRadius: 2, background: "#6c6" }} />
      <T s="74 up" x={651} y={113} size={5} color="#333" />
      <T s="68 down" x={651} y={120} size={5} color="#333" />
      {/* C legend */}
      <T s={"\u2212 logP"} x={351} y={336} size={6.5} color="#333" />
      {/* D legend */}
      <T s="Domain" x={646} y={323.5} size={4.2} color="#333" />
      {domainNames.map((d, i) => (
        <React.Fragment key={d}>
          <Box x={646} y={327.5 + i * 5.4} w={5.2} h={5.2} c={domainColors[i]} />
          <T s={d} x={652} y={329.8 + i * 5.4} size={4.2} color="#333" />
        </React.Fragment>
      ))}
      {/* E legend */}
      <Box x={283} y={545} w={12.5} h={6} c="#55a0fa" />
      <Box x={283} y={560} w={12.5} h={6} c="#ff6496" />
      <T s="Sham" x={302} y={548.5} size={8.5} color="#333" />
      <T s="TBI" x={302} y={563.5} size={8.5} color="#333" />
      {/* F legend */}
      <div style={{ position: "absolute", left: 630, top: 524.5, width: 2.4, height: 2.4, borderRadius: 2, background: "#55a0f5" }} />
      <div style={{ position: "absolute", left: 630, top: 544.5, width: 2.4, height: 2.4, borderRadius: 2, background: "#f5609a" }} />
      <T s="Sham" x={644} y={526} size={8.5} color="#333" />
      <T s="TBI" x={644} y={546} size={8.5} color="#333" />
      {/* G table */}
      <div style={{ position: "absolute", left: 14, top: 784, width: 464, height: 73, border: "1.5px solid #777", boxSizing: "content-box" }} />
      <Box x={14} y={799.5} w={465} h={1.2} c="#777" />
      {tableHead.map((h, i) => <T key={i} s={h} x={columnCenters[i]} y={792} size={7.1} weight="bold" align="center" color="#333" />)}
      {tableRows.map((r, j) => r.map((v, i) => (
        <T key={`${j}-${i}`} s={v} x={i === 0 ? 17.7 : columnCenters[i]} y={rowCenters[j]} size={7} align={i === 0 ? "left" : "center"} color="#333" />
      )))}
      {/* H funnel */}
      <svg width={685} height={877} style={{ position: "absolute", left: 0, top: 0 }}>
        {funnelSteps.map((f, i) => (
          <g key={i}>
            <polygon points={`${f.tl},${f.top} ${f.tr},${f.top} ${f.br},${f.bot} ${f.bl},${f.bot}`} fill={f.fill} stroke="#c9d6ee" strokeWidth={0.7} />
            {f.lines.map((l, k) => (
              <text key={k} x={590} y={(f.top + f.bot) / 2 + (k - (f.lines.length - 1) / 2) * 9.3 + 2.5} textAnchor="middle" fontSize={7.5} fill="#333" fontFamily={FONT} xmlSpace="preserve">{l}</text>
            ))}
            {i < funnelSteps.length - 1 && (
              <g>
                <line x1={589.3} x2={589.3} y1={f.bot + 1} y2={funnelSteps[i + 1].top - 1.5} stroke="#222" strokeWidth={0.9} />
                <polygon points={`587.6,${funnelSteps[i + 1].top - 3} 591,${funnelSteps[i + 1].top - 3} 589.3,${funnelSteps[i + 1].top - 0.5}`} fill="#222" />
                {funnelCounts[i] && <text x={595} y={(f.bot + funnelSteps[i + 1].top) / 2 + 2.3} fontSize={6.5} fill="#333" fontFamily={FONT}>{funnelCounts[i]}</text>}
              </g>
            )}
          </g>
        ))}
      </svg>
    </div>
  );
}
